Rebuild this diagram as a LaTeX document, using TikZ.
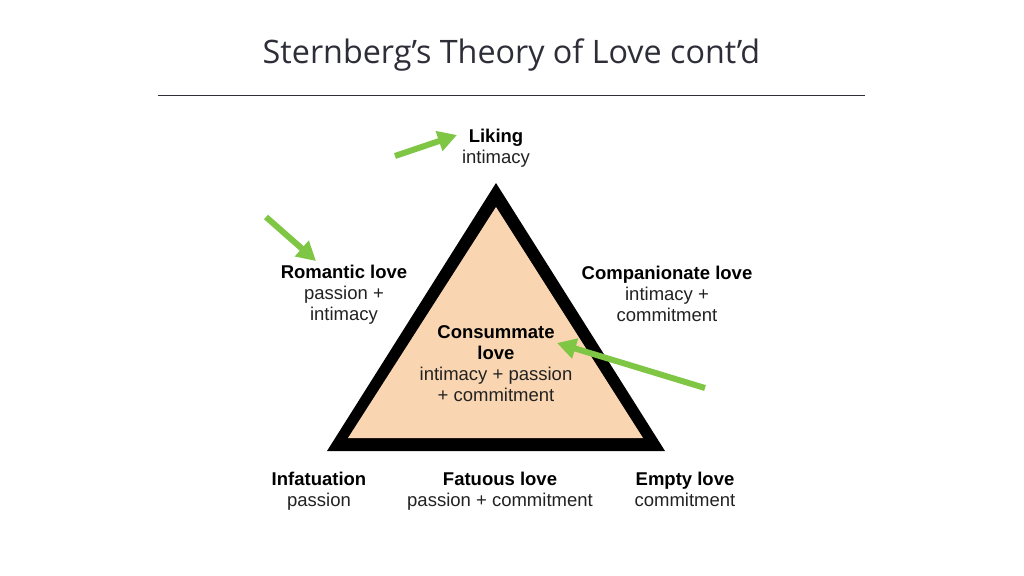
\documentclass[tikz,border=0pt]{standalone}
\usepackage{fontspec}
\setmainfont{Liberation Sans}
\newfontfamily\titlefont{Open Sans}
\usetikzlibrary{arrows.meta}
\definecolor{peach}{RGB}{249,214,177}
\definecolor{arrowgreen}{RGB}{126,198,68}
\definecolor{titlegray}{RGB}{45,46,56}
\definecolor{txt}{RGB}{34,34,34}
\tikzset{
  lbl/.style={align=center, text=txt, inner sep=0pt, font=\fontsize{18.5}{20.8}\selectfont},
  garrow/.style={draw=arrowgreen, line width=6pt, -{Triangle[length=19pt,width=20pt]}, shorten >=0pt}
}
\begin{document}
\begin{tikzpicture}[x=1pt,y=-1pt]
\useasboundingbox (0,0) rectangle (1024,575);
\fill[white] (0,0) rectangle (1024,575);
\node[font=\titlefont\fontsize{32.3}{38}\selectfont, text=titlegray, inner sep=0pt] (title) at (511.5,55) {Sternberg’s Theory of Love cont’d};
\coordinate (ruleL) at (158,95.5);
\coordinate (ruleR) at (865,95.5);
\draw[titlegray, line width=1pt] (ruleL) -- (ruleR);
% triangle
\fill[black] (496,183) -- (327,451) -- (665,451) -- cycle;
\fill[peach] (496,207) -- (348,438) -- (643,438) -- cycle;
% labels
\node[lbl] (liking) at (496,148.5) {\textbf{\color{black}Liking}\\intimacy};
\node[lbl] (romantic) at (344,294.5) {\textbf{\color{black}Romantic love}\\passion +\\intimacy};
\node[lbl] (companionate) at (667,294) {\textbf{\color{black}Companionate love}\\intimacy +\\commitment};
\node[lbl] (consummate) at (496,363.5) {\textbf{\color{black}Consummate}\\\textbf{\color{black}love}\\intimacy + passion\\+ commitment};
\node[lbl] (infatuation) at (319,491) {\textbf{\color{black}Infatuation}\\passion};
\node[lbl] (fatuous) at (500,491) {\textbf{\color{black}Fatuous love}\\passion + commitment};
\node[lbl] (empty) at (685,489.5) {\textbf{\color{black}Empty love}\\commitment};
% arrows
\coordinate (a1s) at (395,156);
\coordinate (a1e) at (457,135);
\coordinate (a2s) at (266,217);
\coordinate (a2e) at (316,261);
\coordinate (a3s) at (705,388);
\coordinate (a3e) at (557,343);
\draw[garrow] (a1s) -- (a1e);
\draw[garrow] (a2s) -- (a2e);
\draw[garrow] (a3s) -- (a3e);
\end{tikzpicture}
\end{document}
